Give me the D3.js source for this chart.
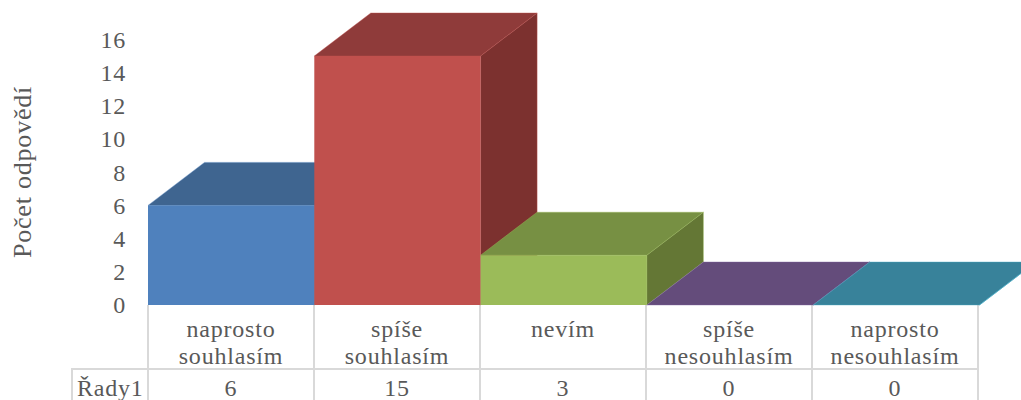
<!DOCTYPE html>
<html lang="cs">
<head>
<meta charset="utf-8">
<title>Počet odpovědí</title>
<script src="https://cdn.jsdelivr.net/npm/d3@7"></script>
<style>
  html, body { margin: 0; padding: 0; background: #fff; }
  svg { display: block; }
  text { font-family: "Liberation Serif", serif; fill: #595959; font-size: 24px; letter-spacing: 0.8px; }
</style>
</head>
<body>
<svg id="chart" width="1021" height="400"></svg>
<script>
const categories = ["naprosto souhlasím", "spíše souhlasím", "nevím", "spíše nesouhlasím", "naprosto nesouhlasím"];
const values = [6, 15, 3, 0, 0];
const seriesName = "Řady1";
const axisTitle = "Počet odpovědí";
const yTicks = [0, 2, 4, 6, 8, 10, 12, 14, 16];
const frontColors = ["#4f81bd", "#c0504d", "#9bbb59", "#8064a2", "#4bacc6"];
const topColors = ["#3f6590", "#8f3b3a", "#779043", "#644c7b", "#38829a"];
const sideColors = ["#345476", "#7c312f", "#647735", "#534065", "#2f6d80"];

const width = 1021, height = 400;
const baseY = 305, rowY = 369;
const depthX = 56.5, depthY = 43;
const grid = "#d9d9d9";

const svg = d3.select("#chart");
const x = d3.scaleBand().domain(categories).range([148, 979.5]);
const tableX = d3.scaleBand().domain(categories).range([148, 978]);
const y = d3.scaleLinear().domain([0, 16]).range([baseY, 39.4]);

// Data table under the plot
const table = svg.append("g")
  .attr("stroke", grid).attr("stroke-width", 2).attr("fill", "none");
const edges = [...categories.map(c => tableX(c)), tableX.range()[1]];
table.selectAll("line.v").data(edges).join("line")
  .attr("class", "v")
  .attr("x1", d => d).attr("x2", d => d)
  .attr("y1", baseY).attr("y2", height);
table.append("line").attr("x1", 71).attr("x2", tableX.range()[1]).attr("y1", rowY).attr("y2", rowY);
table.append("line").attr("x1", 72).attr("x2", 72).attr("y1", rowY).attr("y2", height);

// Each box is drawn left to right so nearer faces cover the previous one
const rows = categories.map((c, i) => ({ c, v: values[i], i }));
const poly = pts => pts.map(p => p.join(",")).join(" ");
const bars = svg.append("g").selectAll("g").data(rows).join("g");

bars.append("polygon")
  .attr("points", d => {
    const l = x(d.c), r = l + x.bandwidth(), t = y(d.v);
    return poly([[l, t], [l + depthX, t - depthY], [r + depthX, t - depthY], [r, t]]);
  })
  .attr("fill", d => topColors[d.i])
  .attr("stroke", d => frontColors[d.i]).attr("stroke-opacity", 0.5).attr("stroke-width", 0.8);

bars.append("polygon")
  .attr("points", d => {
    const r = x(d.c) + x.bandwidth(), t = y(d.v);
    return poly([[r, t], [r + depthX, t - depthY], [r + depthX, baseY - depthY], [r, baseY]]);
  })
  .attr("fill", d => sideColors[d.i])
  .attr("stroke", d => frontColors[d.i]).attr("stroke-opacity", 0.5).attr("stroke-width", 0.8);

bars.append("rect")
  .attr("x", d => x(d.c)).attr("y", d => y(d.v))
  .attr("width", x.bandwidth()).attr("height", d => baseY - y(d.v))
  .attr("fill", d => frontColors[d.i]);

// Value axis
const axis = svg.append("g")
  .attr("transform", "translate(126,0)")
  .call(d3.axisLeft(y).tickValues(yTicks).tickSize(0).tickPadding(0).tickFormat(d3.format("d")));
axis.select(".domain").remove();
axis.selectAll("text")
  .attr("font-family", null).attr("font-size", null)
  .attr("x", 0).attr("dy", "0.33em");

svg.append("text")
  .attr("transform", "translate(31,172) rotate(-90)")
  .attr("text-anchor", "middle")
  .style("font-size", "26px")
  .text(axisTitle);

// Category names, wrapped on the space between words
const heads = svg.append("g").selectAll("text").data(rows).join("text")
  .attr("text-anchor", "middle");
heads.selectAll("tspan").data(d => d.c.split(" ").map(w => ({ w, d }))).join("tspan")
  .attr("x", p => tableX(p.d.c) + tableX.bandwidth() / 2)
  .attr("y", (p, j) => 337 + j * 27)
  .text(p => p.w);

// Value row
svg.append("g").selectAll("text").data(rows).join("text")
  .attr("text-anchor", "middle")
  .attr("x", d => tableX(d.c) + tableX.bandwidth() / 2)
  .attr("y", 396)
  .text(d => d.v);
svg.append("text").attr("x", 77).attr("y", 396).text(seriesName);
</script>
</body>
</html>
